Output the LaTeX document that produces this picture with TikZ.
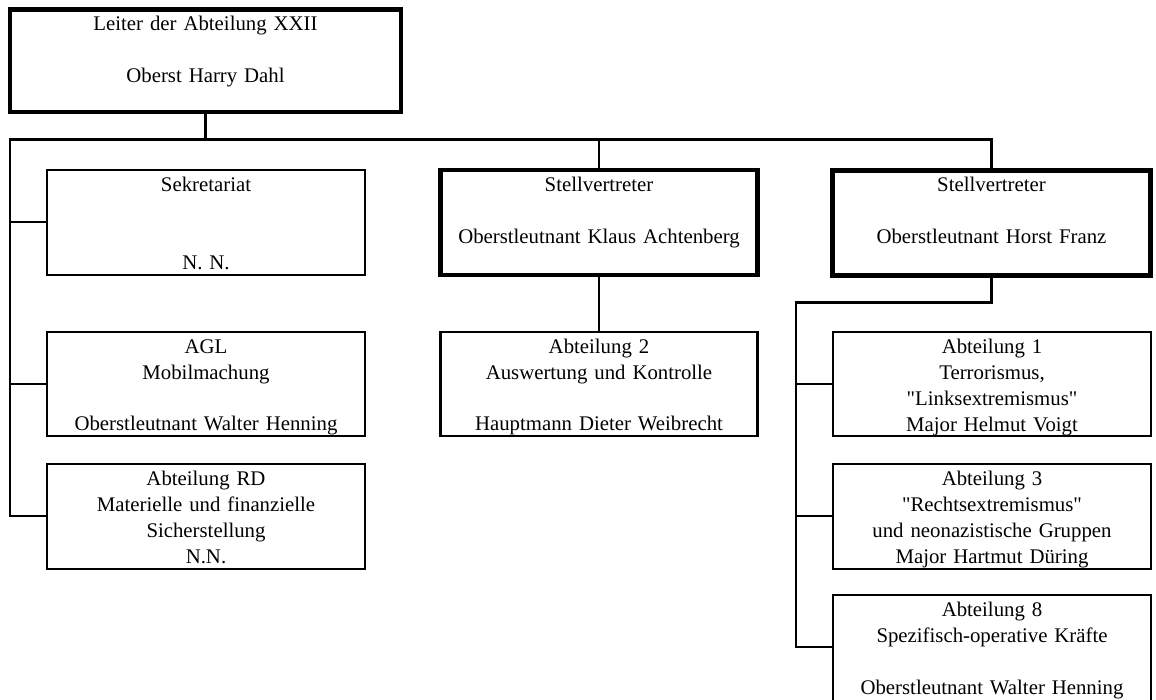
\documentclass[tikz,border=0pt]{standalone}
\usepackage{fontspec}
\setmainfont{Liberation Serif}
\begin{document}
\begin{tikzpicture}[x=1pt,y=-1pt,
  unit/.style={draw, line width=2.2pt, rectangle, inner sep=0pt, anchor=north,
    align=center, text width=#1, text height=21.5pt, text depth=83.5pt,
    font=\fontsize{20.8}{26}\selectfont},
  chief/.style={unit=#1, line width=4.8pt},
  conn/.style={draw, line width=2.2pt},
]
\useasboundingbox (0,0) rectangle (1156,699);

% head of the department
\node[chief=391pt, text height=21pt, text depth=81.5pt] (head) at (205.5,7)
  {Leiter der Abteilung XXII\\[26.5pt]Oberst Harry Dahl};

% staff directly under the head
\node[unit=318pt] (sek) at (206,168.5) {Sekretariat\\[52pt]N. N.};
\node[unit=318pt, text depth=82.5pt] (agl) at (206,331)
  {AGL\\Mobilmachung\\[25pt]Oberstleutnant Walter Henning};
\node[unit=318pt] (rd) at (206,462.5)
  {Abteilung RD\\Materielle und finanzielle\\Sicherstellung\\N.N.};

% deputies
\node[chief=317pt] (dep1) at (599,167.5)
  {Stellvertreter\\[26pt]Oberstleutnant Klaus Achtenberg};
\node[chief=318pt] (dep2) at (991.5,168)
  {Stellvertreter\\[26pt]Oberstleutnant Horst Franz};

% units under the first deputy
\node[unit=317pt, text depth=82.5pt] (ab2) at (599,330.5)
  {Abteilung 2\\Auswertung und Kontrolle\\[25pt]Hauptmann Dieter Weibrecht};

% units under the second deputy
\node[unit=318pt, text depth=82pt] (ab1) at (992,331)
  {Abteilung 1\\Terrorismus,\\\textquotedbl Linksextremismus\textquotedbl\\Major Helmut Voigt};
\node[unit=318pt] (ab3) at (992,462.5)
  {Abteilung 3\\\textquotedbl Rechtsextremismus\textquotedbl\\und neonazistische Gruppen\\Major Hartmut Düring};
\node[unit=318pt, text depth=88.5pt] (ab8) at (992,594)
  {Abteilung 8\\Spezifisch-operative Kräfte\\[26pt]Oberstleutnant Walter Henning};

% main distribution line
\coordinate (busL) at (10,139.5);
\coordinate (busR) at (796,302.5);
\draw[conn] (head.south) -- (head.south |- busL);
\draw[conn] (dep2.north) |- (busL) |- (rd.west);
\draw[conn] (busL |- sek.west) -- (sek.west);
\draw[conn] (busL |- agl.west) -- (agl.west);
\draw[conn] (dep1.north) -- (dep1.north |- busL);

% first deputy to its unit
\draw[conn] (dep1.south) -- (ab2.north);

% second deputy to its units
\draw[conn] (dep2.south) |- (busR) |- ([yshift=3pt]ab8.west);
\draw[conn] (busR |- ab1.west) -- (ab1.west);
\draw[conn] (busR |- ab3.west) -- (ab3.west);
\end{tikzpicture}
\end{document}
